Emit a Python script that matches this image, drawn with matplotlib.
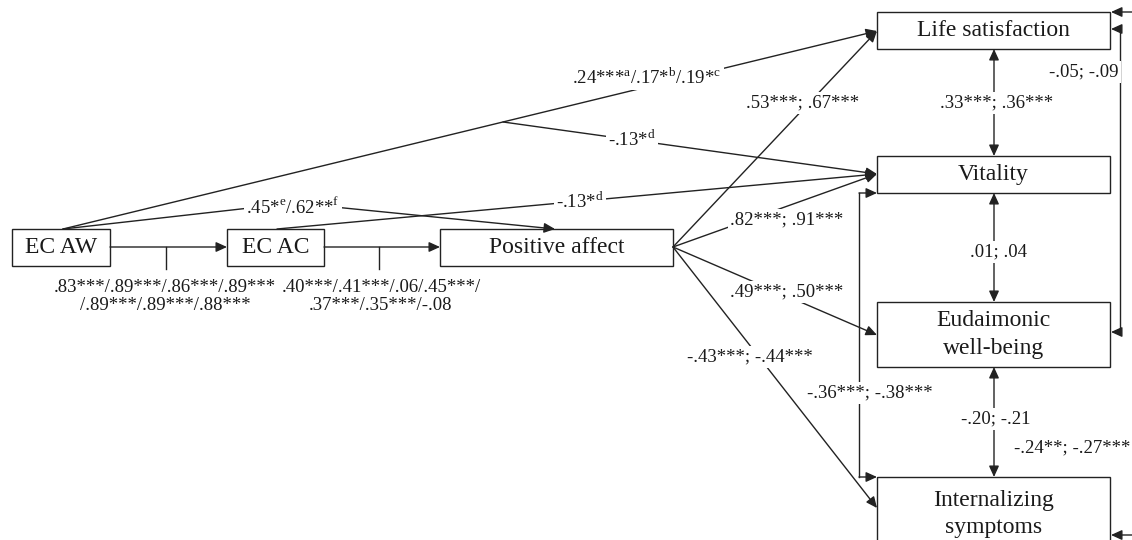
import matplotlib.pyplot as plt
from matplotlib.patches import Rectangle

plt.rcParams['font.family'] = ['Liberation Serif', 'DejaVu Serif']
plt.rcParams['mathtext.fontset'] = 'custom'
plt.rcParams['mathtext.rm'] = 'Liberation Serif'

# node names
nodes = ["EC AW", "EC AC", "Positive affect", "Life satisfaction",
         "Vitality", "Eudaimonic\nwell-being", "Internalizing\nsymptoms"]

# path coefficients
aw_ac = [".83***/.89***/.86***/.89***", "/.89***/.89***/.88***"]
ac_pa = [".40***/.41***/.06/.45***/", ".37***/.35***/-.08"]
aw_ls = r".24***$^{\rm a}$/.17*$^{\rm b}$/.19*$^{\rm c}$"
aw_vit = r"-.13*$^{\rm d}$"
ac_vit = r"-.13*$^{\rm d}$"
aw_pa = r".45*$^{\rm e}$/.62**$^{\rm f}$"
pa_out = [".53***; .67***", ".82***; .91***", ".49***; .50***", "-.43***; -.44***"]
cov_chain = [".33***; .36***", ".01; .04", "-.20; -.21"]
cov_vit_int = "-.36***; -.38***"
cov_ls_eud = "-.05; -.09"
cov_ls_int = "-.24**; -.27***"

# layout (pixels, y down)
box = {
    "EC AW": (12, 229, 110, 266),
    "EC AC": (227, 229, 324, 266),
    "Positive affect": (440, 229, 673, 266),
    "Life satisfaction": (877, 12, 1110, 49),
    "Vitality": (877, 156, 1110, 193),
    "Eudaimonic\nwell-being": (877, 302, 1110, 367),
    "Internalizing\nsymptoms": (877, 477, 1110, 570),
}
lc = "#222222"

fig = plt.figure(figsize=(11.32, 5.4), dpi=100)
ax = fig.add_axes([0, 0, 1, 1])
ax.set_xlim(0, 1132)
ax.set_ylim(540, 0)
ax.axis("off")


def arrow(p, q, style="-|>"):
    ax.annotate("", xy=q, xytext=p,
                arrowprops=dict(arrowstyle=style + ",head_length=0.55,head_width=0.25",
                                color=lc, lw=1, shrinkA=0, shrinkB=0,
                                mutation_scale=12))


def line(xs, ys):
    ax.plot(xs, ys, color=lc, lw=1)


def label(x, y, s, size=13.5):
    ax.text(x, y, s, ha="center", va="center", fontsize=size, color="#1a1a1a",
            bbox=dict(fc="white", ec="none", pad=1.5), zorder=5)


for n in nodes:
    x0, y0, x1, y1 = box[n]
    ax.add_patch(Rectangle((x0, y0), x1 - x0, y1 - y0, fill=False, ec=lc, lw=1))
    cy = (y0 + y1) / 2 if n != nodes[-1] else 514
    ax.text((x0 + x1) / 2, cy, n, ha="center", va="center", fontsize=17,
            color="#1a1a1a", linespacing=1.4)

# chain EC AW -> EC AC -> Positive affect
arrow((110, 247), (227, 247))
arrow((324, 247), (440, 247))
line([166, 166], [247, 269])
line([379, 379], [247, 269])
label(165, 287, aw_ac[0])
label(165, 306, aw_ac[1])
label(381, 287, ac_pa[0])
label(381, 306, ac_pa[1])

# EC AW -> Life satisfaction, with branch to Vitality
arrow((63, 229), (877, 31))
bx = 503
by = 229 + (31 - 229) * (bx - 63) / (877 - 63)
arrow((bx, by), (877, 174))
label(647, 78, aw_ls)
label(632, 140, aw_vit)

# EC AW -> Positive affect (bent)
line([63, 294], [229, 203])
arrow((294, 203), (555, 229))
label(293, 207, aw_pa)

# EC AC -> Vitality
arrow((277, 229), (877, 174))
label(580, 202, ac_vit)

# Positive affect -> outcomes
ends = [(877, 31), (877, 174), (877, 335), (877, 508)]
lpos = [(803, 103), (787, 220), (787, 292), (750, 357)]
for e, (lx, ly), s in zip(ends, lpos, pa_out):
    arrow((673, 247), e)
    label(lx, ly, s)

# covariances between adjacent outcomes
pairs = [(49, 156), (193, 302), (367, 477)]
cy = [103, 252, 419]
cx = [997, 998, 996]
for (a, b), y, x, s in zip(pairs, cy, cx, cov_chain):
    arrow((994, a), (994, b), "<|-|>")
    label(x, y, s)

# Vitality <-> Internalizing (left bracket)
line([859, 859], [193, 477])
arrow((859, 193), (877, 193))
arrow((859, 477), (877, 477))
label(870, 393, cov_vit_int)

# Life satisfaction <-> Eudaimonic (right bracket)
line([1120, 1120], [29, 332])
arrow((1120, 29), (1111, 29))
arrow((1120, 332), (1111, 332))
label(1084, 72, cov_ls_eud)

# Life satisfaction <-> Internalizing (outer bracket, runs off the edge)
arrow((1140, 12), (1111, 12))
arrow((1140, 535), (1111, 535))
label(1072, 448, cov_ls_int)

fig.savefig("out.png", dpi=100, facecolor="white")
